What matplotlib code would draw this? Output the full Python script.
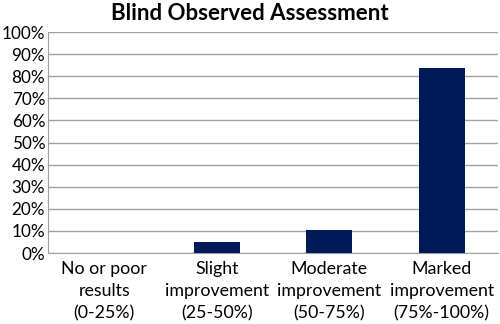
import matplotlib.pyplot as plt
from matplotlib.ticker import FuncFormatter

plt.rcParams['font.family'] = ['Lato', 'DejaVu Sans']

categories = ['No or poor\nresults\n(0-25%)', 'Slight\nimprovement\n(25-50%)',
              'Moderate\nimprovement\n(50-75%)', 'Marked\nimprovement\n(75%-100%)']
values = [0, 5.2, 10.3, 83.7]
y_ticks = list(range(0, 101, 10))

fig = plt.figure(figsize=(5, 3.24), dpi=100)
ax = fig.add_axes([0.096, 0.219, 0.9, 0.682])

x = range(len(categories))
ax.bar(x, values, width=0.41, color='#001a57', zorder=3)

ax.set_xlim(-0.5, len(categories) - 0.5)
ax.set_ylim(0, 100)
ax.set_yticks(y_ticks)
ax.yaxis.set_major_formatter(FuncFormatter(lambda v, p: f'{v:.0f}%'))
ax.set_xticks(list(x))
ax.set_xticklabels(categories, fontsize=12.8, linespacing=1.45)
ax.tick_params(axis='y', labelsize=12.3, length=0, pad=2)
ax.tick_params(axis='x', length=0, pad=6)
ax.grid(axis='y', color='#a0a0a0', linewidth=1, zorder=0)

for s in ['top', 'right']:
    ax.spines[s].set_visible(False)
ax.spines['left'].set_color('#a0a0a0')
ax.spines['bottom'].set_color('#a0a0a0')

fig.text(0.5, 0.958, 'Blind Observed Assessment', ha='center', va='center',
         fontsize=16, fontweight='bold')

fig.savefig('out.png', dpi=100)
